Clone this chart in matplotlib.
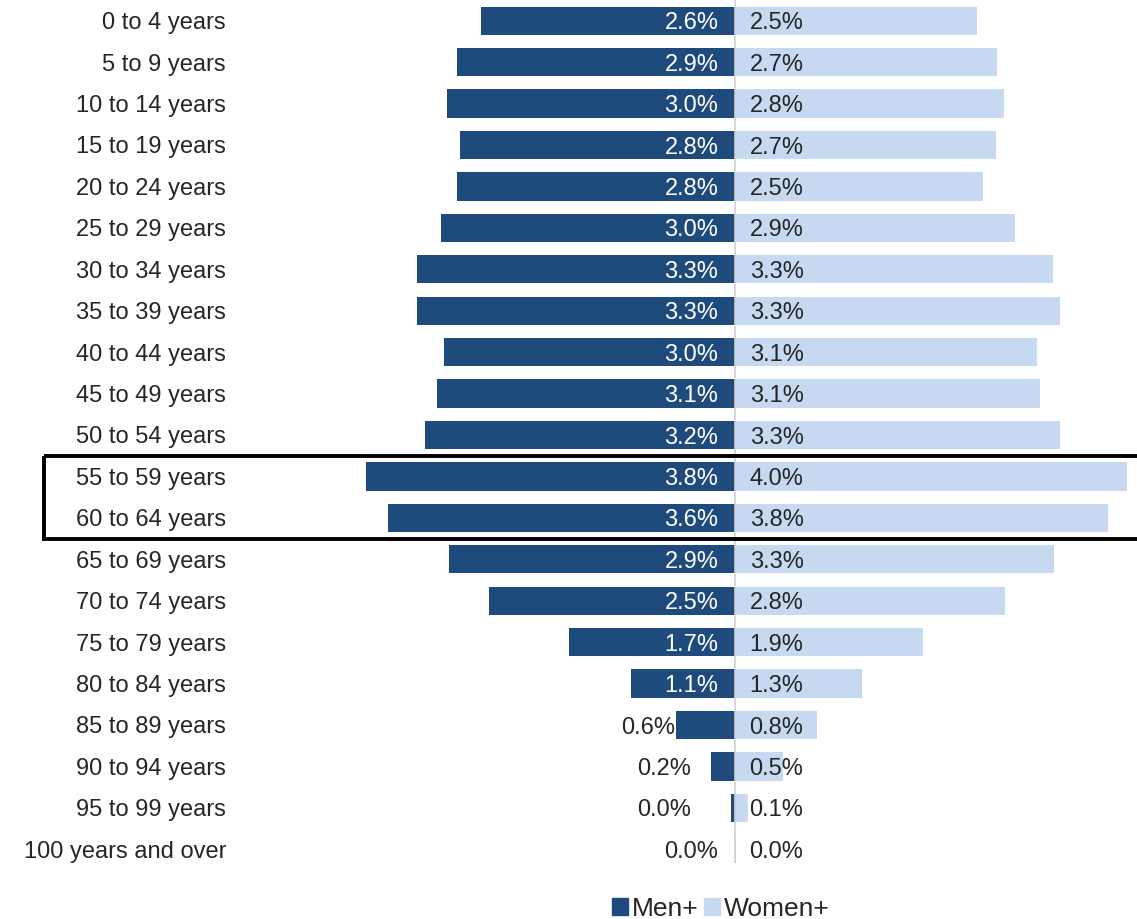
import matplotlib.pyplot as plt
from matplotlib.patches import Patch, Rectangle
from matplotlib.transforms import blended_transform_factory

plt.rcParams['font.family'] = ['Liberation Sans', 'DejaVu Sans']

ages = ['0 to 4 years', '5 to 9 years', '10 to 14 years', '15 to 19 years',
        '20 to 24 years', '25 to 29 years', '30 to 34 years', '35 to 39 years',
        '40 to 44 years', '45 to 49 years', '50 to 54 years', '55 to 59 years',
        '60 to 64 years', '65 to 69 years', '70 to 74 years', '75 to 79 years',
        '80 to 84 years', '85 to 89 years', '90 to 94 years', '95 to 99 years',
        '100 years and over']
men = [2.61, 2.85, 2.95, 2.82, 2.85, 3.02, 3.26, 3.26, 2.98, 3.06, 3.18,
       3.78, 3.56, 2.93, 2.52, 1.70, 1.07, 0.61, 0.25, 0.04, 0.0]
women = [2.48, 2.69, 2.76, 2.68, 2.54, 2.87, 3.26, 3.33, 3.10, 3.13, 3.33,
         4.02, 3.83, 3.27, 2.77, 1.93, 1.30, 0.84, 0.49, 0.13, 0.01]
men_labels = ['2.6%', '2.9%', '3.0%', '2.8%', '2.8%', '3.0%', '3.3%', '3.3%',
              '3.0%', '3.1%', '3.2%', '3.8%', '3.6%', '2.9%', '2.5%', '1.7%',
              '1.1%', '0.6%', '0.2%', '0.0%', '0.0%']
women_labels = ['2.5%', '2.7%', '2.8%', '2.7%', '2.5%', '2.9%', '3.3%', '3.3%',
                '3.1%', '3.1%', '3.3%', '4.0%', '3.8%', '3.3%', '2.8%', '1.9%',
                '1.3%', '0.8%', '0.5%', '0.1%', '0.0%']

men_color = '#1f4a7c'
women_color = '#c6d9f0'
text_color = '#262626'
fs = 17

W, H = 1137, 919
fig = plt.figure(figsize=(W / 100, H / 100), dpi=100)
ax = fig.add_axes([240 / W, (H - 870) / H, (W - 240) / W, 870 / H])

y = list(range(len(ages)))
ax.barh(y, [-m for m in men], height=0.68, color=men_color)
ax.barh(y, women, height=0.68, color=women_color)

ax.set_xlim((240 - 735) / 97.5, (W - 735) / 97.5)
ax.set_ylim(20.5, -0.5)
ax.plot([0, 0], [-0.5, 20.3], color='#d0d0d0', lw=1.2, zorder=3)

for i in y:
    if men[i] >= 1 or men[i] == 0:
        col = 'white' if men[i] >= 1 else text_color
        ax.text(-0.17, i, men_labels[i], ha='right', va='center_baseline', color=col, fontsize=fs)
    else:
        ax.text(-max(men[i], 0.45), i, men_labels[i], ha='right', va='center_baseline',
                color=text_color, fontsize=fs)
    ax.text(0.15, i, women_labels[i], ha='left', va='center_baseline', color=text_color, fontsize=fs)

ax.set_yticks(y)
ax.set_yticklabels(ages, fontsize=fs, color=text_color, va='center_baseline')
ax.tick_params(axis='y', length=0, pad=10)
ax.set_xticks([])
for s in ax.spines.values():
    s.set_visible(False)

trans = blended_transform_factory(fig.transFigure, ax.transData)
ax.add_patch(Rectangle((44 / W, 10.5), 1.0, 2.0, transform=trans, fill=False,
                       edgecolor='black', lw=2.8, clip_on=False, zorder=5))

handles = [Patch(color=men_color, label='Men+'), Patch(color=women_color, label='Women+')]
fig.legend(handles=handles, loc='center', bbox_to_anchor=(721 / W, 1 - 909 / H), ncol=2,
           frameon=False, fontsize=19, handlelength=0.6, handleheight=0.6,
           handletextpad=0.15, columnspacing=0.2, labelcolor=text_color)

fig.savefig('out.png', dpi=100)
